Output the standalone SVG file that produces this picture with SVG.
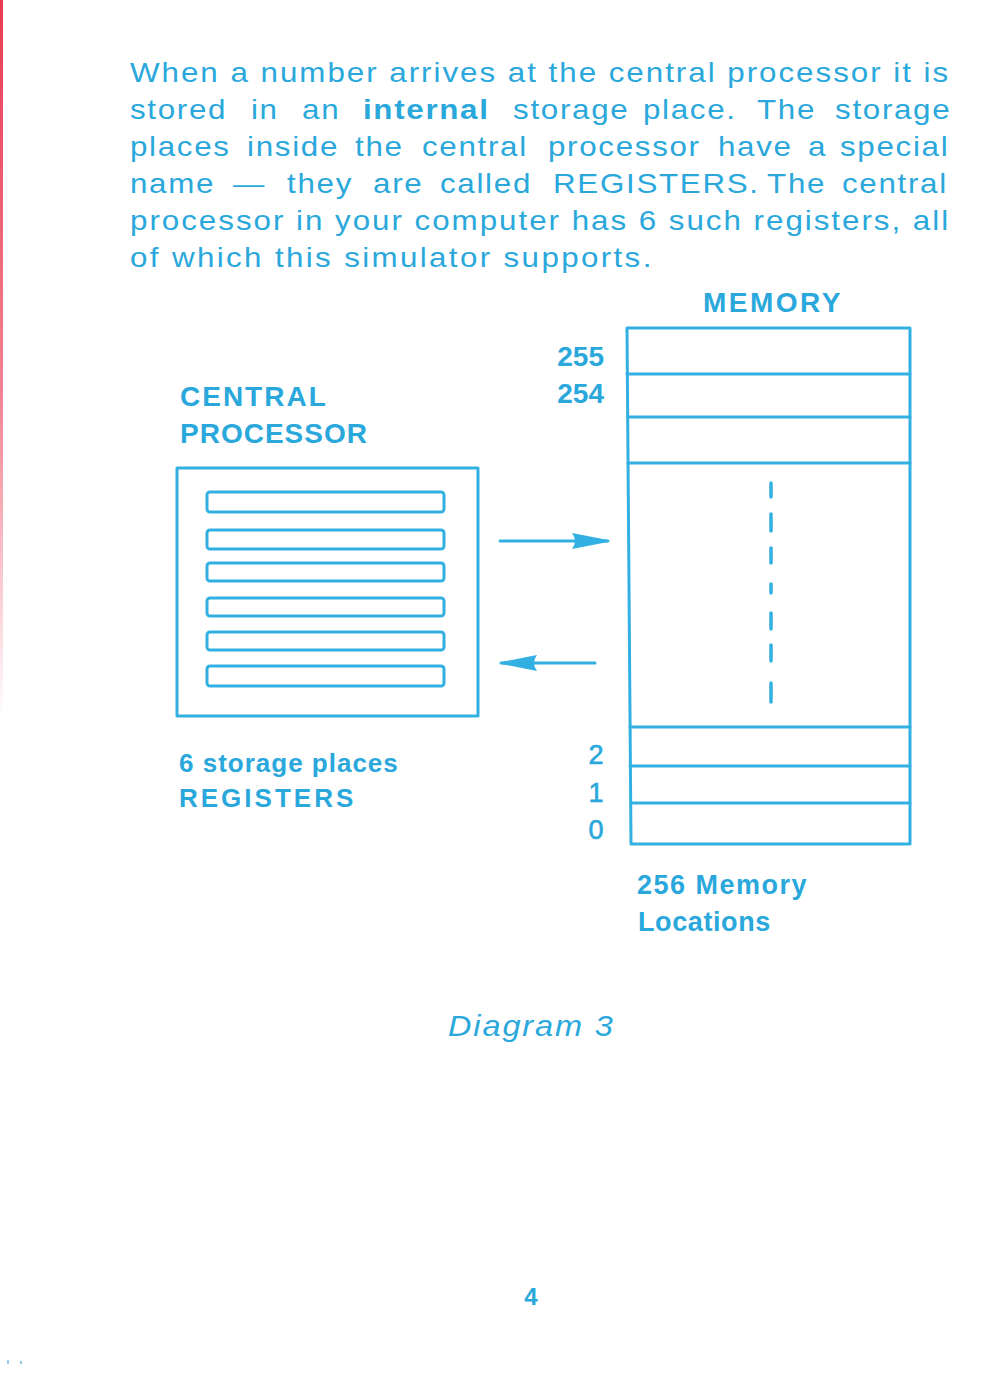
<svg xmlns="http://www.w3.org/2000/svg" width="1000" height="1395" viewBox="0 0 1000 1395">
<defs>
<style>
.t{font-family:"Liberation Sans",Arial,sans-serif;fill:#2aa8dc}
.body{font-size:28px;letter-spacing:1.5px}
.lab{font-weight:bold;font-size:28px}
.ln{fill:none;stroke:#33b0e2;stroke-width:3;stroke-linecap:round;stroke-linejoin:round}
.reg{fill:none;stroke:#33b0e2;stroke-width:3}
.dash{stroke:#33b0e2;stroke-width:3.5;stroke-linecap:round}
</style>
<linearGradient id="edge" x1="0" y1="0" x2="0" y2="1">
<stop offset="0" stop-color="#e8304a" stop-opacity="0.95"/>
<stop offset="0.55" stop-color="#e8304a" stop-opacity="0.6"/>
<stop offset="1" stop-color="#e8304a" stop-opacity="0"/>
</linearGradient>
<marker id="head" markerUnits="userSpaceOnUse" markerWidth="42" markerHeight="20" viewBox="-2 -10 42 20" refX="36" refY="0" orient="auto">
<path d="M0,-8 L36,-1 L36,1 L0,8 Q6,0 0,-8 Z" fill="#33b0e2"/>
</marker>
</defs>
<rect width="1000" height="1395" fill="#ffffff"/>
<rect x="0" y="0" width="3" height="720" fill="url(#edge)"/>
<rect x="7" y="1360" width="2" height="4" fill="#4aa6d6" opacity="0.6"/>
<rect x="20" y="1361" width="2" height="3" fill="#4aa6d6" opacity="0.6"/>

<g id="paragraph" class="t body" transform="matrix(1.12 0 0 1 -15.6 0)">
<text x="130" y="82" textLength="732" lengthAdjust="spacing">When a number arrives at the central processor it is</text>
<text y="119"><tspan x="130">stored</tspan><tspan x="238">in</tspan><tspan x="283.6">an</tspan><tspan x="338" font-weight="bold">internal</tspan><tspan x="472">storage</tspan><tspan x="588">place.</tspan><tspan x="689.8">The</tspan><tspan x="759.5">storage</tspan></text>
<text y="156"><tspan x="130">places</tspan><tspan x="234.5">inside</tspan><tspan x="330.9">the</tspan><tspan x="390.7">central</tspan><tspan x="503.2">processor</tspan><tspan x="655">have</tspan><tspan x="735.4">a</tspan><tspan x="763.9">special</tspan></text>
<text y="193"><tspan x="130">name</tspan><tspan x="222">—</tspan><tspan x="270.2">they</tspan><tspan x="347">are</tspan><tspan x="406.8">called</tspan><tspan x="507.7">REGISTERS.</tspan><tspan x="698.8">The</tspan><tspan x="765.7">central</tspan></text>
<text x="130" y="230" textLength="732" lengthAdjust="spacing">processor in your computer has 6 such registers, all</text>
<text x="130" y="267" textLength="467" lengthAdjust="spacing">of which this simulator supports.</text>
</g>

<g id="cpu">
<text class="t lab" x="180" y="406" letter-spacing="2">CENTRAL</text>
<text class="t lab" x="180" y="443" letter-spacing="1">PROCESSOR</text>
<rect class="ln" x="177" y="468" width="301" height="248"/>
<g id="registers">
<rect class="reg" x="207" y="492" width="237" height="20" rx="3"/>
<rect class="reg" x="207" y="530" width="237" height="19" rx="3"/>
<rect class="reg" x="207" y="563" width="237" height="18" rx="3"/>
<rect class="reg" x="207" y="598" width="237" height="18" rx="3"/>
<rect class="reg" x="207" y="632" width="237" height="18" rx="3"/>
<rect class="reg" x="207" y="666" width="237" height="20" rx="3"/>
</g>
<text class="t" x="179" y="772" font-size="26" font-weight="bold" letter-spacing="1">6 storage places</text>
<text class="t" x="179" y="807" font-size="26" font-weight="bold" letter-spacing="3">REGISTERS</text>
</g>

<g id="memory">
<text class="t lab" x="703" y="312" letter-spacing="2.5">MEMORY</text>
<path class="ln" d="M627,328 L910,328 L910,844 L631,844 Z"/>
<path class="ln" d="M627,374 L910,374 M628,417 L910,417 M628,463 L910,463 M630,727 L910,727 M630,766 L910,766 M631,803 L910,803"/>
<g id="gap">
<line class="dash" x1="771" y1="483" x2="771" y2="497"/>
<line class="dash" x1="771" y1="514" x2="771" y2="531"/>
<line class="dash" x1="771" y1="548" x2="771" y2="563"/>
<line class="dash" x1="771" y1="584" x2="771" y2="593"/>
<line class="dash" x1="771" y1="613" x2="771" y2="629"/>
<line class="dash" x1="771" y1="645" x2="771" y2="661"/>
<line class="dash" x1="771" y1="683" x2="771" y2="702"/>
</g>
<text class="t lab" x="604" y="366" text-anchor="end">255</text>
<text class="t lab" x="604" y="403" text-anchor="end">254</text>
<text class="t" x="596" y="764" font-size="27" text-anchor="middle" stroke="#2aa8dc" stroke-width="0.6">2</text>
<text class="t" x="596" y="802" font-size="27" text-anchor="middle" stroke="#2aa8dc" stroke-width="0.6">1</text>
<text class="t" x="596" y="839" font-size="27" text-anchor="middle" stroke="#2aa8dc" stroke-width="0.6">0</text>
<text class="t" x="637" y="894" font-size="27" font-weight="bold" letter-spacing="1.5">256 Memory</text>
<text class="t" x="638" y="931" font-size="27" font-weight="bold" letter-spacing="0.6">Locations</text>
</g>

<g id="connectors">
<line class="ln" x1="500" y1="541" x2="608" y2="541" marker-end="url(#head)"/>
<line class="ln" x1="595" y1="663" x2="501" y2="663" marker-end="url(#head)"/>
</g>

<g id="caption">
<text class="t" x="448" y="1036" font-size="29" font-style="italic" letter-spacing="1.7" transform="matrix(1.12 0 0 1 -53.76 0)">Diagram 3</text>
<text class="t" x="531" y="1305" font-size="24" font-weight="bold" text-anchor="middle">4</text>
</g>
</svg>
